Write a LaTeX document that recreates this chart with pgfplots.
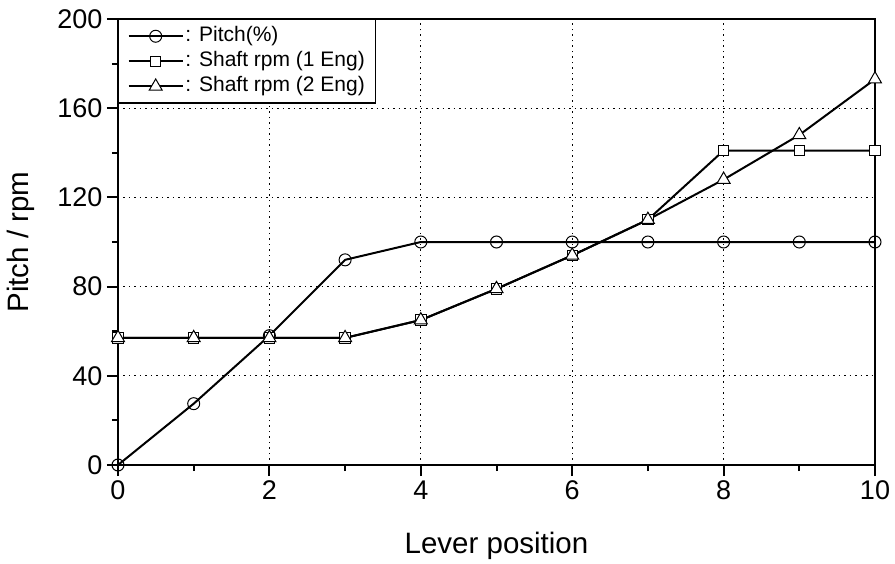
\documentclass[border=0pt]{standalone}
\usepackage{fontspec}
\setmainfont{Liberation Sans}
\usepackage{pgfplots}
\pgfplotsset{compat=1.18}
\begin{document}
\begin{tikzpicture}
\begin{axis}[
  scale only axis,
  width=757pt, height=446pt,
  xmin=0, xmax=10, ymin=0, ymax=200,
  xtick={0,2,...,10}, ytick={0,40,...,200},
  minor xtick={1,3,...,9}, minor ytick={20,60,...,180},
  tick align=outside,
  tick pos=left,
  major tick length=11pt, minor tick length=6pt,
  every tick/.style={black, line width=2pt},
  axis line style={line width=2.2pt},
  grid=major,
  major grid style={black, line width=1.3pt, dash pattern=on 1.5pt off 4pt},
  xlabel={Lever position}, ylabel={Pitch / rpm},
  every axis x label/.style={at={(rel axis cs:0.5,0)}, yshift=-88pt, anchor=base,
    font=\fontsize{29.5}{33}\selectfont},
  every axis y label/.style={at={(rel axis cs:0,0.5)}, xshift=-97pt, rotate=90, anchor=center,
    font=\fontsize{29.5}{33}\selectfont},
  tick label style={font=\fontsize{27}{31}\selectfont},
  /pgf/number format/assume math mode=true,
  xticklabel style={yshift=-1pt},
  yticklabel style={xshift=-1pt},
  legend style={at={(0,1)}, anchor=north west, font=\fontsize{21}{25}\selectfont,
    draw=black, line width=1.4pt, inner xsep=9pt, inner ysep=4pt, row sep=0pt,
    cells={anchor=west},
    nodes={text height=16pt, text depth=5.5pt, inner sep=1.8pt}},
  legend image code/.code={
    \draw[#1, mark=none] (0pt,0pt) -- (54pt,0pt);
    \draw[#1, only marks] plot coordinates {(27pt,0pt)};
  },
]
\coordinate (sw) at (rel axis cs:0,0);
\coordinate (ne) at (rel axis cs:1,1);
\addplot[black, line width=2pt, mark=o, mark size=6pt,
  mark options={fill=white, solid, line width=1pt}] coordinates {
(0,0) (1,27.5) (2,58) (3,92) (4,100) (5,100) (6,100) (7,100) (8,100) (9,100) (10,100)};
\addlegendentry{: Pitch(\%)}
\addplot[black, line width=2pt, mark=square*, mark size=5.2pt,
  mark options={fill=white, draw=black, solid, line width=1pt}] coordinates {
(0,57) (1,57) (2,57) (3,57) (4,65) (5,79) (6,94) (7,110) (8,141) (9,141) (10,141)};
\addlegendentry{: Shaft rpm (1 Eng)}
\addplot[black, line width=2pt, mark=triangle*, mark size=7.5pt,
  mark options={fill=white, draw=black, solid, line width=1pt}] coordinates {
(0,57) (1,57) (2,57) (3,57) (4,65) (5,79) (6,94) (7,110) (8,128) (9,148) (10,173)};
\addlegendentry{: Shaft rpm (2 Eng)}
\end{axis}
\path ([shift={(-118pt,-98pt)}]sw) rectangle ([shift={(20pt,19pt)}]ne);
\end{tikzpicture}
\end{document}
